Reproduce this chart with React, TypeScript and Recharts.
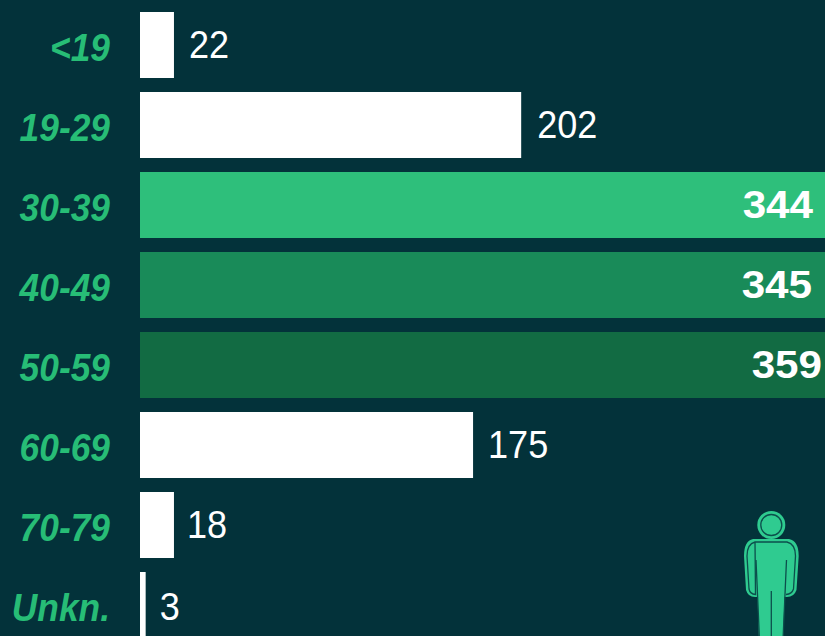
import React from "react";
import { BarChart, Bar, XAxis, YAxis, Cell, LabelList } from "recharts";

// Age bands as printed on the axis
const categories = ["<19", "19-29", "30-39", "40-49", "50-59", "60-69", "70-79", "Unkn."];
// Numbers as printed beside each bar
const printedValues = [22, 202, 344, 345, 359, 175, 18, 3];
// Bar lengths as drawn in the picture, in the same units (the three largest run off the frame)
const drawnLengths = [18, 202, 364, 364, 364, 176.5, 18, 3];

const BG = "#03323a";
const GREEN = "#27bd76";
const HIGHLIGHTS: Record<string, string> = { "30-39": "#2ebf7b", "40-49": "#198b59", "50-59": "#126b43" };
const INSIDE_INSET: Record<string, number> = { "30-39": 12, "40-49": 13, "50-59": 3 };
const OUTSIDE_NUDGE: Record<string, { dx: number; dy: number }> = {
  "70-79": { dx: -2, dy: 0 },
  "Unkn.": { dx: -1, dy: 1.5 },
  "19-29": { dx: 1, dy: -0.5 },
};
const FONT = "'Liberation Sans', Arial, sans-serif";

const rows = categories.map((category, i) => ({
  category,
  length: drawnLengths[i],
  printed: printedValues[i],
}));

function AgeTick({ x, y, payload }: any) {
  return (
    <text
      transform={`translate(${x},${y + 16}) scale(1.04,1.12)`}
      textAnchor="end"
      fill={GREEN}
      fontFamily={FONT}
      fontSize={34}
      fontStyle="italic"
      fontWeight={700}
    >
      {payload.value}
    </text>
  );
}

function ValueLabel({ x, y, width, height, index }: any) {
  const cat = categories[index];
  const value = printedValues[index];
  const inset = INSIDE_INSET[cat];
  const mid = y + height / 2;
  if (inset !== undefined) {
    return (
      <text
        transform={`translate(${825 - inset},${mid + 12.5}) scale(1.14,1.06)`}
        textAnchor="end"
        fill="#fff"
        fontFamily={FONT}
        fontSize={37}
        fontWeight={700}
      >
        {value}
      </text>
    );
  }
  const n = OUTSIDE_NUDGE[cat] ?? { dx: 0, dy: 0 };
  return (
    <text
      transform={`translate(${x + width + 15 + n.dx},${mid + 13 + n.dy}) scale(1.03,1.1)`}
      textAnchor="start"
      fill="#fff"
      fontFamily={FONT}
      fontSize={35}
    >
      {value}
    </text>
  );
}

function Person() {
  const light = "#2fcb90";
  const dark = "#0c4f4c";
  const outer =
    "M753 539 H789 Q798.7 541 798.7 556 L796.5 590 Q794 597 787 597 L784.5 597 L783 640 H759 L757.5 597 L755 597 Q748 597 746 590 L744 556 Q744 541 753 539 Z";
  const inset =
    "M755 542 H787 Q795.5 544 795.5 556 L793.5 589 Q792 594 786 594.5 M755.5 594.5 Q750 594 749 589 L747 556 Q747 544 755 542 Z";
  return (
    <svg width={825} height={636} style={{ position: "absolute", left: 0, top: 0, pointerEvents: "none" }}>
      <circle cx={771.3} cy={525} r={14} fill={light} />
      <circle cx={771.3} cy={525} r={10.5} fill={light} stroke={dark} strokeWidth={1.3} />
      <path d={outer} fill={light} />
      <path d={inset} fill="none" stroke={dark} strokeWidth={1.3} />
      <path d="M756 560 L759.5 640 M786.5 560 L783 640 M771.3 591 V640" fill="none" stroke={dark} strokeWidth={1.3} />
    </svg>
  );
}

export default function App() {
  return (
    <div style={{ position: "absolute", left: 0, top: 0, width: 825, height: 636, overflow: "hidden", background: BG }}>
      <BarChart
        width={825}
        height={650}
        data={rows}
        layout="vertical"
        barCategoryGap={7}
        margin={{ top: 5, right: 0, bottom: 5, left: 0 }}
      >
        <XAxis type="number" hide domain={[0, 363]} allowDataOverflow />
        <YAxis
          type="category"
          dataKey="category"
          width={140}
          axisLine={false}
          tickLine={false}
          tickMargin={24}
          tick={<AgeTick />}
          interval={0}
        />
        <Bar dataKey="length" isAnimationActive={false} fill="#fff">
          {rows.map((r) => (
            <Cell key={r.category} fill={HIGHLIGHTS[r.category] ?? "#ffffff"} />
          ))}
          <LabelList dataKey="printed" content={<ValueLabel />} />
        </Bar>
      </BarChart>
      <Person />
    </div>
  );
}
